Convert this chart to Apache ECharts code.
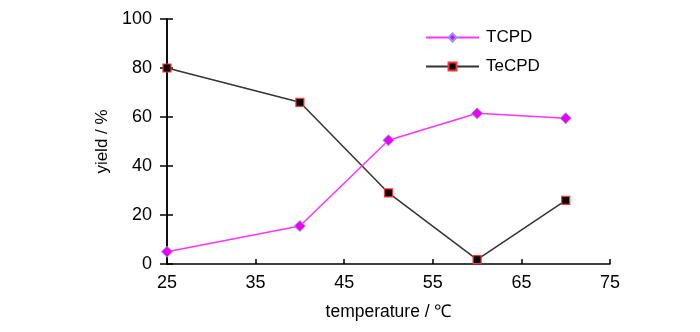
<!DOCTYPE html>
<html><head><meta charset="utf-8">
<script src="https://cdn.jsdelivr.net/npm/echarts@6/dist/echarts.min.js"></script>
<style>html,body{margin:0;padding:0;background:#fff}#c{width:700px;height:332px}</style>
</head><body><div id="c"></div>
<script>
const temperatures = [25, 40, 50, 60, 70];
const tcpd = [5, 15.5, 50.5, 61.5, 59.5];
const tecpd = [80, 66, 29, 1.8, 26];
const seriesNames = ['TCPD', 'TeCPD'];
const xTitle = 'temperature / ℃';
const yTitle = 'yield / %';

const font = '"Liberation Sans", Arial, sans-serif';
const chart = echarts.init(document.getElementById('c'));
const yBase = {
  type: 'value', min: 0, max: 100, interval: 20,
  splitLine: {show: false},
  axisLine: {show: true, lineStyle: {color: '#000', width: 1.5}}
};
chart.setOption({
  animation: false,
  grid: {left: 167, right: 90, top: 19, bottom: 68},
  legend: {
    left: 420, top: 24, orient: 'vertical', itemGap: 12,
    itemWidth: 53, itemHeight: 10,
    textStyle: {fontFamily: font, fontSize: 17, color: '#000', padding: [0, 0, 0, 2]},
    data: seriesNames
  },
  xAxis: {
    type: 'value', min: 25, max: 75, interval: 10,
    name: xTitle, nameLocation: 'middle', nameGap: 39,
    nameTextStyle: {fontFamily: font, fontSize: 17.5, color: '#000'},
    axisLine: {lineStyle: {color: '#000', width: 1.5}},
    axisTick: {inside: true, length: 5, lineStyle: {color: '#000', width: 1.5}},
    axisLabel: {fontFamily: font, fontSize: 18, color: '#000', margin: 10},
    splitLine: {show: false}
  },
  yAxis: [
    Object.assign({}, yBase, {
      name: yTitle, nameLocation: 'middle', nameGap: 54,
      nameTextStyle: {fontFamily: font, fontSize: 17, color: '#000'},
      axisTick: {inside: false, length: 7, lineStyle: {color: '#000', width: 1.5}},
      axisLabel: {fontFamily: font, fontSize: 18, color: '#000', margin: 15}
    }),
    Object.assign({}, yBase, {
      position: 'left',
      axisTick: {inside: true, length: 6, lineStyle: {color: '#000', width: 1.5}},
      axisLabel: {show: false}
    })
  ],
  series: [
    {
      name: seriesNames[0], type: 'line',
      data: temperatures.map((t, i) => [t, tcpd[i]]),
      symbol: 'diamond', symbolSize: 11,
      lineStyle: {color: '#ff33ff', width: 1.5},
      itemStyle: {color: '#ee00ee', borderColor: '#8899ff', borderWidth: 1},
      z: 3
    },
    {
      name: seriesNames[1], type: 'line',
      data: temperatures.map((t, i) => [t, tecpd[i]]),
      symbol: 'rect', symbolSize: 8,
      lineStyle: {color: '#333', width: 1.5},
      itemStyle: {color: '#000', borderColor: '#ff3333', borderWidth: 1.2},
      z: 2
    }
  ]
});
</script></body></html>
